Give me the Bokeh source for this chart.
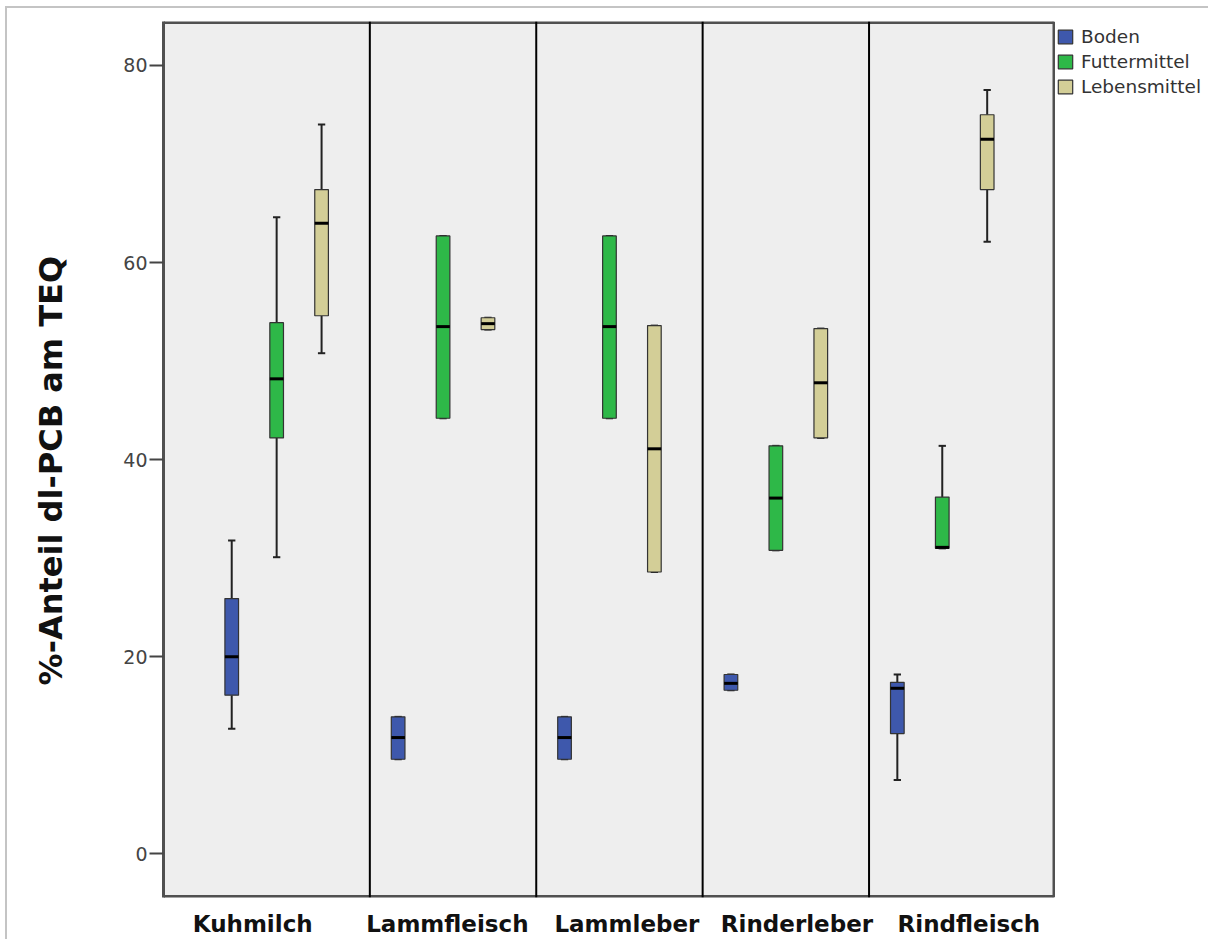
from bokeh.plotting import figure
from bokeh.models import Span, Legend, LegendItem, FixedTicker, ColumnDataSource, Range1d, BoxAnnotation
from bokeh.embed import file_html
from bokeh.resources import INLINE

categories = ["Kuhmilch", "Lammfleisch", "Lammleber", "Rinderleber", "Rindfleisch"]
groups = ["Boden", "Futtermittel", "Lebensmittel"]
colors = ["#3E58AC", "#2EB848", "#D3CE97"]

boden_low = [12.7, 9.6, 9.6, 16.6, 7.5]
boden_q1 = [16.1, 9.6, 9.6, 16.6, 12.2]
boden_med = [20.0, 11.8, 11.8, 17.3, 16.8]
boden_q3 = [25.9, 13.9, 13.9, 18.2, 17.4]
boden_high = [31.8, 13.9, 13.9, 18.2, 18.2]

futter_low = [30.1, 44.2, 44.2, 30.8, 31.0]
futter_q1 = [42.2, 44.2, 44.2, 30.8, 31.0]
futter_med = [48.2, 53.5, 53.5, 36.1, 31.1]
futter_q3 = [53.9, 62.7, 62.7, 41.4, 36.2]
futter_high = [64.6, 62.7, 62.7, 41.4, 41.4]

leben_low = [50.8, 53.2, 28.6, 42.2, 62.1]
leben_q1 = [54.6, 53.2, 28.6, 42.2, 67.4]
leben_med = [64.0, 53.8, 41.1, 47.8, 72.5]
leben_q3 = [67.4, 54.4, 53.6, 53.3, 75.0]
leben_high = [74.0, 54.4, 53.6, 53.3, 77.5]

series = [
    (boden_low, boden_q1, boden_med, boden_q3, boden_high),
    (futter_low, futter_q1, futter_med, futter_q3, futter_high),
    (leben_low, leben_q1, leben_med, leben_q3, leben_high),
]

FONT = "DejaVu Sans"

X0, X1 = -0.68, 4.67      # plot panel extent
XF = 5.60                 # frame extends to the right to hold the legend
Y0, Y1 = -4.43, 84.46

p = figure(width=1208, height=939,
           x_range=Range1d(X0, XF), y_range=Range1d(Y0, Y1),
           output_backend="svg", toolbar_location=None,
           min_border_left=163, min_border_right=0,
           min_border_top=21, min_border_bottom=41,
           styles={
               "background-image": "linear-gradient(#c4c4c4,#c4c4c4), linear-gradient(#c4c4c4,#c4c4c4)",
               "background-size": "2px 100%, 100% 2px",
               "background-position": "5px 6px, 5px 6px",
               "background-repeat": "no-repeat",
           })

p.background_fill_alpha = 0
p.border_fill_alpha = 0
p.outline_line_color = None
p.xgrid.visible = False
p.ygrid.visible = False

# panel background
p.add_layout(BoxAnnotation(left=X0, right=X1, bottom=Y0, top=Y1, fill_color="#EEEEEE",
                           fill_alpha=1, line_color=None, level="underlay"))

# y axis
p.yaxis.ticker = FixedTicker(ticks=[0, 20, 40, 60, 80])
p.yaxis.axis_label = "%-Anteil dl-PCB am TEQ\u00a0\u00a0"
p.yaxis.axis_label_text_font = FONT
p.yaxis.axis_label_text_font_size = "32px"
p.yaxis.axis_label_text_font_style = "bold"
p.yaxis.axis_label_text_color = "#111111"
p.yaxis.axis_label_standoff = 50
p.yaxis.major_label_text_font = FONT
p.yaxis.major_label_text_font_size = "19px"
p.yaxis.major_label_text_color = "#444444"
p.yaxis.major_label_standoff = 2
p.yaxis.major_tick_out = 14
p.yaxis.major_tick_in = 0
p.yaxis.minor_tick_line_color = None
p.yaxis.axis_line_color = "#505050"
p.yaxis.axis_line_width = 3
p.yaxis.major_tick_line_color = "#444444"
p.yaxis.major_tick_line_width = 2

# x axis: category labels sit roughly under each panel
label_pos = [-0.144, 1.026, 2.105, 3.127, 4.16]
p.xaxis.ticker = FixedTicker(ticks=label_pos)
p.xaxis.major_label_overrides = {pos: c for pos, c in zip(label_pos, categories)}
p.xaxis.major_label_text_font = FONT
p.xaxis.major_label_text_font_size = "23px"
p.xaxis.major_label_text_font_style = "bold"
p.xaxis.major_label_text_color = "#111111"
p.xaxis.major_label_standoff = 13
p.xaxis.major_tick_out = 0
p.xaxis.major_tick_in = 0
p.xaxis.major_tick_line_color = None
p.xaxis.minor_tick_line_color = None
p.xaxis.axis_line_color = None

# panel border (top, bottom, right)
p.segment(x0=[X0, X0], y0=[Y1, Y0], x1=[X1, X1], y1=[Y1, Y0], line_color="#505050", line_width=5)
p.segment(x0=[X1], y0=[Y0], x1=[X1], y1=[Y1], line_color="#505050", line_width=2.5)

# dividers between categories
for i in range(len(categories) - 1):
    p.add_layout(Span(location=i + 0.56, dimension="height", line_color="black", line_width=2))

offsets = [-0.27, 0.0, 0.27]
box_w = 0.082
cap_w = 0.022

legend_items = []
for g, (name, col, off, (lo, q1, med, q3, hi)) in enumerate(zip(groups, colors, offsets, series)):
    xs = [i + off for i in range(len(categories))]
    src = ColumnDataSource(dict(x=xs, lo=lo, q1=q1, med=med, q3=q3, hi=hi,
                                xl=[x - box_w / 2 for x in xs], xr=[x + box_w / 2 for x in xs],
                                cl=[x - cap_w for x in xs], cr=[x + cap_w for x in xs]))
    p.segment(x0="x", y0="q3", x1="x", y1="hi", source=src, line_color="#222222", line_width=2)
    p.segment(x0="x", y0="lo", x1="x", y1="q1", source=src, line_color="#222222", line_width=2)
    p.segment(x0="cl", y0="hi", x1="cr", y1="hi", source=src, line_color="#222222", line_width=2)
    p.segment(x0="cl", y0="lo", x1="cr", y1="lo", source=src, line_color="#222222", line_width=2)
    r = p.vbar(x="x", width=box_w, bottom="q1", top="q3", source=src,
               fill_color=col, line_color="#333333", line_width=1.2)
    p.segment(x0="xl", y0="med", x1="xr", y1="med", source=src, line_color="black", line_width=3)
    legend_items.append(LegendItem(label=name, renderers=[r]))

legend = Legend(items=legend_items, location=(893, 800))
legend.label_text_font = FONT
legend.label_text_font_size = "18.5px"
legend.label_text_color = "#333333"
legend.glyph_width = 18
legend.glyph_height = 17
legend.label_standoff = 7
legend.spacing = 4
legend.padding = 5
legend.margin = 0
legend.border_line_color = None
legend.background_fill_alpha = 0
p.add_layout(legend)

open("out.html", "w").write(file_html(p, INLINE))
